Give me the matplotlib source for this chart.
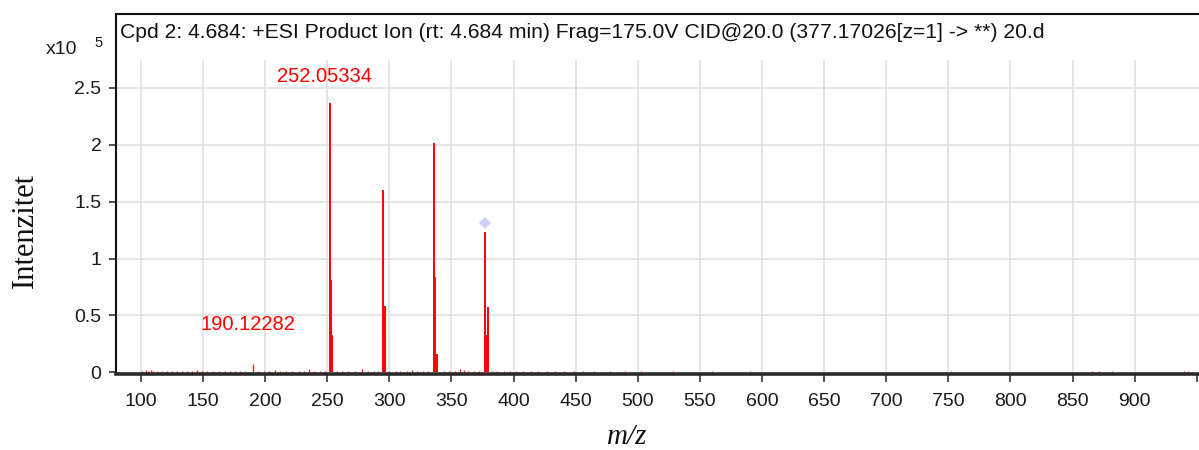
import matplotlib
matplotlib.use('Agg')
import matplotlib.pyplot as plt

# ---- data (intensity in units of 1e5 counts) ----
peak_mz = [252.05, 253.06, 253.5, 254.06,
           294.6, 295.6, 296.6,
           336.1, 337.1, 338.2,
           377.17, 378.17, 379.4]
peak_int = [2.37, 0.81, 0.33, 0.085,
            1.605, 0.27, 0.584,
            2.016, 0.836, 0.16,
            1.235, 0.33, 0.572]

noise_mz = [101, 104, 106, 108, 110, 113, 117, 121, 125, 129, 133, 137, 141, 145,
            149, 153, 158, 163, 168, 172, 176, 180, 184, 190.12, 194, 199, 203, 208,
            212, 217, 222, 227, 231, 235, 239, 244, 248, 258, 262, 267, 272, 278,
            283, 288, 291, 300, 305, 309, 314, 318, 322, 327, 331, 344, 348, 353,
            357, 360, 363, 368, 372, 383, 387, 392, 397, 402, 408, 414, 420, 427,
            433, 441, 449, 456, 465, 478, 490, 503, 516, 528, 541, 560, 575, 590,
            612, 636, 660, 688, 705, 730, 752, 778, 800, 821, 866, 871, 882, 896,
            940, 943]
noise_int = [0.012, 0.02, 0.015, 0.018, 0.012, 0.01, 0.014, 0.012, 0.01, 0.013, 0.011,
             0.01, 0.012, 0.018, 0.01, 0.012, 0.011, 0.01, 0.012, 0.01, 0.013, 0.012,
             0.01, 0.07, 0.015, 0.012, 0.014, 0.02, 0.012, 0.011, 0.013, 0.015, 0.014,
             0.028, 0.012, 0.01, 0.012, 0.012, 0.01, 0.011, 0.012, 0.03, 0.012, 0.01,
             0.012, 0.01, 0.012, 0.011, 0.013, 0.02, 0.012, 0.01, 0.012, 0.01, 0.012,
             0.011, 0.03, 0.02, 0.012, 0.01, 0.011, 0.012, 0.01, 0.015, 0.012, 0.01,
             0.009, 0.012, 0.008, 0.01, 0.008, 0.009, 0.008, 0.007, 0.008, 0.007, 0.008,
             0.007, 0.006, 0.007, 0.006, 0.007, 0.006, 0.007, 0.006, 0.006, 0.006,
             0.006, 0.006, 0.006, 0.007, 0.006, 0.006, 0.006, 0.008, 0.008, 0.007,
             0.006, 0.008, 0.007]

precursor_mz = [377.17]
precursor_int = [1.317]

label_texts = ['252.05334', '190.12282']
label_mz = [248, 186]
label_int = [2.6, 0.42]

x_ticks = [100, 150, 200, 250, 300, 350, 400, 450, 500, 550, 600, 650, 700, 750,
           800, 850, 900, 950]
x_tick_labels = [str(t) for t in x_ticks[:-1]] + ['']
y_ticks = [0, 0.5, 1, 1.5, 2, 2.5]
y_tick_labels = ['0', '0.5', '1', '1.5', '2', '2.5']

title = 'Cpd 2: 4.684: +ESI Product Ion (rt: 4.684 min) Frag=175.0V CID@20.0 (377.17026[z=1] -> **) 20.d'

# ---- figure ----
plt.rcParams['font.family'] = ['Liberation Sans', 'DejaVu Sans']
fig = plt.figure(figsize=(11.99, 4.5), dpi=100)
ax = fig.add_axes([115.5 / 1199, (450 - 374) / 450, 1 - 115.5 / 1199, (374 - 13.5) / 450])

xmin, xmax = 79.6, 951.8
ymin, ymax = -0.015, 3.155
grid_top = 2.744
ax.set_xlim(xmin, xmax)
ax.set_ylim(ymin, ymax)

grid_col = '#dedede'
ax.vlines(x_ticks[:-1], ymin, grid_top, color=grid_col, lw=1.1, zorder=0)
ax.hlines(y_ticks[1:], xmin, xmax, color=grid_col, lw=1.1, zorder=0)

ax.vlines(noise_mz, 0, noise_int, color='#ff2020', lw=1.0, zorder=2)
ax.vlines(peak_mz, 0, peak_int, color='#ff0000', lw=1.4, zorder=3)
ax.plot(precursor_mz, precursor_int, linestyle='none', marker='D', markersize=6.5,
        color='#cdd0fa', markeredgewidth=0, zorder=4)

for t, x, y in zip(label_texts, label_mz, label_int):
    ax.text(x, y, t, color='#ff0000', fontsize=14.5, ha='center', va='center')

ax.set_xticks(x_ticks)
ax.set_xticklabels(x_tick_labels)
ax.set_yticks(y_ticks)
ax.set_yticklabels(y_tick_labels)
ax.tick_params(axis='x', length=6, width=1.2, color='#333333', pad=7.5,
               labelsize=14, labelcolor='#1a1a1a')
ax.tick_params(axis='y', length=5, width=1.2, color='#333333', pad=5,
               labelsize=14, labelcolor='#1a1a1a')

for s in ['top', 'left']:
    ax.spines[s].set_color('#111111')
    ax.spines[s].set_linewidth(1.5)
ax.spines['right'].set_visible(False)
ax.spines['bottom'].set_color('#2a2a2a')
ax.spines['bottom'].set_linewidth(2.6)

ax.text(0.0045, 0.948, title, transform=ax.transAxes, fontsize=15.2,
        color='#111111', ha='left', va='center')

fig.text(46 / 1199, 1 - 49 / 450, 'x10', fontsize=14, color='#1a1a1a',
         ha='left', va='center')
fig.text(94 / 1199, 1 - 43 / 450, '5', fontsize=10.5, color='#1a1a1a',
         ha='left', va='center')

fig.text(25 / 1199, 1 - 230 / 450, 'Intenzitet', family=['Liberation Serif'],
         fontsize=22, rotation=90, ha='center', va='center', color='#111111')
fig.text(627 / 1199, 1 - 437 / 450, 'm/z', family=['Liberation Serif'],
         style='italic', fontsize=21, ha='center', va='center', color='#111111')

fig.savefig('out.png', dpi=100)
